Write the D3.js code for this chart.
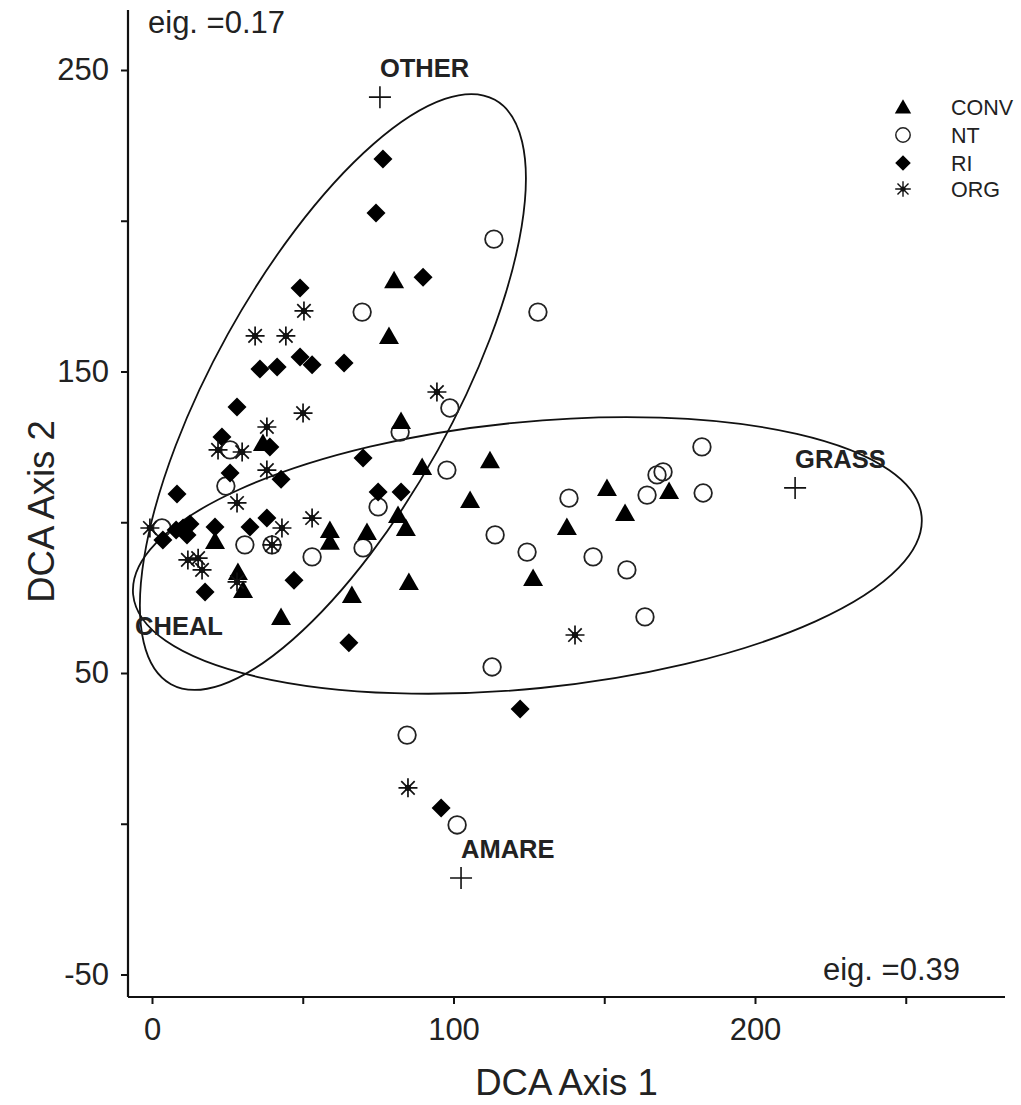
<!DOCTYPE html>
<html>
<head>
<meta charset="utf-8">
<script src="https://cdn.jsdelivr.net/npm/d3@7"></script>
<style>
  html, body { margin: 0; padding: 0; background: #fff; }
  svg { display: block; }
  text { font-family: "Liberation Sans", Arial, sans-serif; fill: #222; }
</style>
</head>
<body>
<div id="chart"></div>
<script>
// ---------------- DATA ----------------
const convX = [80.3, 78.6, 82.6, 89.6, 112.1, 105.5, 59.0, 59.0, 71.3, 81.6, 84.2, 85.2, 66.3, 150.9, 156.9, 137.6, 126.4, 171.5, 36.8, 20.9, 28.5, 30.2, 42.8];
const convY = [180.3, 161.8, 133.6, 118.3, 120.6, 107.4, 97.4, 93.5, 96.8, 102.4, 98.1, 80.2, 75.9, 111.4, 103.1, 98.4, 81.5, 110.4, 126.3, 93.8, 83.5, 77.5, 68.6];

const ntX = [113.4, 128.0, 69.7, 98.8, 82.3, 97.8, 75.0, 70.0, 53.1, 113.8, 124.4, 146.3, 157.5, 163.5, 138.3, 164.2, 167.5, 169.5, 182.4, 182.8, 112.8, 84.6, 101.2, 24.5, 30.8, 39.8, 3.3, 25.9];
const ntY = [193.9, 169.7, 169.7, 137.9, 129.9, 117.3, 105.1, 91.5, 88.5, 95.8, 90.1, 88.5, 84.2, 68.6, 108.0, 109.0, 115.7, 116.7, 125.0, 109.7, 52.0, 29.4, -0.4, 112.0, 92.5, 92.5, 98.1, 124.0];

const riX = [76.6, 74.3, 89.9, 49.1, 49.1, 53.1, 63.7, 41.5, 35.8, 28.2, 23.2, 39.1, 25.9, 42.8, 8.3, 70.0, 75.0, 82.6, 47.1, 65.3, 122.1, 95.9, 32.5, 38.1, 20.9, 17.6, 10.3, 12.6, 11.6, 8.0, 3.6];
const riY = [220.5, 202.6, 181.3, 177.7, 154.8, 152.2, 152.8, 151.5, 150.8, 138.2, 128.3, 125.0, 116.3, 114.3, 109.4, 121.3, 110.0, 110.0, 80.8, 60.0, 38.1, 5.2, 98.4, 101.4, 98.4, 76.9, 98.1, 99.4, 95.8, 97.4, 94.1];

const orgX = [50.4, 34.2, 44.4, 50.1, 38.1, 21.9, 29.9, 38.1, 94.5, 28.2, -0.7, 11.9, 15.3, 16.6, 43.1, 53.1, 39.8, 140.3, 84.9, 28.2];
const orgY = [170.1, 161.8, 161.8, 136.2, 131.6, 124.0, 123.3, 117.3, 143.2, 106.4, 98.1, 87.5, 88.1, 84.2, 98.1, 101.4, 92.5, 62.6, 11.9, 80.2];

// species scores (crosses) and labels
const speciesNames = ["OTHER", "GRASS", "AMARE", "CHEAL"];
const speciesX = [75.6, 213.3, 102.5, -5.6];
const speciesY = [241.0, 111.4, -18.0, 56.0];
const speciesCross = [true, true, true, false];

// confidence ellipses: centre, semi-axes, rotation (degrees)
const ellCX = [60.0, 124.5];
const ellCY = [143.2, 89.0];
const ellA = [110.8, 131.4];
const ellB = [39.8, 44.2];
const ellAngle = [61.0, 5.7];

const groupNames = ["CONV", "NT", "RI", "ORG"];
const xTicks = [0, 50, 100, 150, 200, 250];
const xTickLabels = ["0", "", "100", "", "200", ""];
const yTicks = [250, 200, 150, 100, 50, 0, -50];
const yTickLabels = ["250", "", "150", "", "50", "", "-50"];
const eigAxis2 = "eig. =0.17";
const eigAxis1 = "eig. =0.39";

// ---------------- LAYOUT ----------------
const W = 1021, H = 1105;
const pL = 128, pR = 1005, pT = 10, pB = 997;
const k = 3.015;
const x = d3.scaleLinear().domain([(pL - 152) / k, (pR - 152) / k]).range([pL, pR]);
const y = d3.scaleLinear().domain([250 - (pB - 70) / k, 250 - (pT - 70) / k]).range([pB, pT]);

const svg = d3.select("#chart").append("svg").attr("width", W).attr("height", H);

// ellipses
const ellG = svg.append("g");
ellCX.forEach((cx, i) => {
  const rx = x(ellA[i]) - x(0);
  const ry = y(0) - y(ellB[i]);
  ellG.append("ellipse")
    .attr("cx", 0).attr("cy", 0)
    .attr("rx", rx).attr("ry", ry)
    .attr("transform", `translate(${x(cx)},${y(ellCY[i])}) rotate(${-ellAngle[i]})`)
    .attr("fill", "none").attr("stroke", "#111").attr("stroke-width", 1.8);
});

// marker drawers
function triPath() { return "M0,-9.5L10,8L-10,8Z"; }
function diaPath() { return "M0,-9.5L9.5,0L0,9.5L-9.5,0Z"; }
function drawCircle(g) {
  g.append("circle").attr("r", 8.8).attr("fill", "none").attr("stroke", "#222").attr("stroke-width", 1.8);
}
function drawTri(g) { g.append("path").attr("d", triPath()).attr("fill", "#000"); }
function drawDia(g) { g.append("path").attr("d", diaPath()).attr("fill", "#000"); }
function drawStar(g) {
  const r = 9.5;
  const d = [];
  for (let a = 0; a < 4; a++) {
    const t = a * Math.PI / 4;
    d.push(`M${-r * Math.cos(t)},${-r * Math.sin(t)}L${r * Math.cos(t)},${r * Math.sin(t)}`);
  }
  g.append("path").attr("d", d.join("")).attr("stroke", "#111").attr("stroke-width", 1.7).attr("fill", "none");
  g.append("circle").attr("r", 3.2).attr("fill", "#111");
}

const marks = svg.append("g");
function plot(xs, ys, drawer) {
  xs.forEach((v, i) => {
    const g = marks.append("g").attr("transform", `translate(${x(v)},${y(ys[i])})`);
    drawer(g);
  });
}
plot(ntX, ntY, drawCircle);
plot(convX, convY, drawTri);
plot(riX, riY, drawDia);
plot(orgX, orgY, drawStar);

// species crosses + labels
const sp = svg.append("g");
speciesNames.forEach((name, i) => {
  const px = x(speciesX[i]), py = y(speciesY[i]);
  if (speciesCross[i]) {
    sp.append("path").attr("d", `M${px - 11},${py}L${px + 11},${py}M${px},${py - 11}L${px},${py + 11}`)
      .attr("stroke", "#111").attr("stroke-width", 1.6);
  }
  sp.append("text").attr("x", px).attr("y", py - 20)
    .attr("font-size", 25.5).attr("font-weight", "bold").text(name);
});

// axes
const xAxis = d3.axisBottom(x).tickValues(xTicks).tickSize(7).tickPadding(14)
  .tickFormat((d, i) => xTickLabels[i]);
const yAxis = d3.axisLeft(y).tickValues(yTicks).tickSize(7).tickPadding(12)
  .tickFormat((d, i) => yTickLabels[i]);

const gx = svg.append("g").attr("transform", `translate(0,${pB})`).call(xAxis);
const gy = svg.append("g").attr("transform", `translate(${pL},0)`).call(yAxis);
[gx, gy].forEach(g => {
  g.select(".domain").attr("stroke", "#111").attr("stroke-width", 2.2);
  g.selectAll(".tick line").attr("stroke", "#111").attr("stroke-width", 2);
  g.selectAll(".tick text").attr("font-size", 31).attr("font-family", "Liberation Sans, Arial, sans-serif").attr("fill", "#222");
});
gx.select(".domain").attr("d", `M${pL},0H${pR}`);
gy.select(".domain").attr("d", `M0,${pT}V${pB}`);

// axis titles
svg.append("text").attr("x", (pL + pR) / 2).attr("y", 1095)
  .attr("text-anchor", "middle").attr("font-size", 36.5).text("DCA Axis 1");
svg.append("text").attr("transform", `translate(54,${(pT + pB) / 2 + 8}) rotate(-90)`)
  .attr("text-anchor", "middle").attr("font-size", 36.5).text("DCA Axis 2");

// eigenvalue notes
svg.append("text").attr("x", 148).attr("y", 33).attr("font-size", 31).text(eigAxis2);
svg.append("text").attr("x", 960).attr("y", 980).attr("text-anchor", "end").attr("font-size", 31).text(eigAxis1);

// legend
const legY = [107, 135, 163, 189];
const legDraw = [drawTri, drawCircle, drawDia, drawStar];
const leg = svg.append("g");
groupNames.forEach((n, i) => {
  const g = leg.append("g").attr("transform", `translate(903,${legY[i]}) scale(0.82)`);
  legDraw[i](g);
  leg.append("text").attr("x", 951).attr("y", legY[i] + 7.5).attr("font-size", 21.5).text(n);
});
</script>
</body>
</html>
